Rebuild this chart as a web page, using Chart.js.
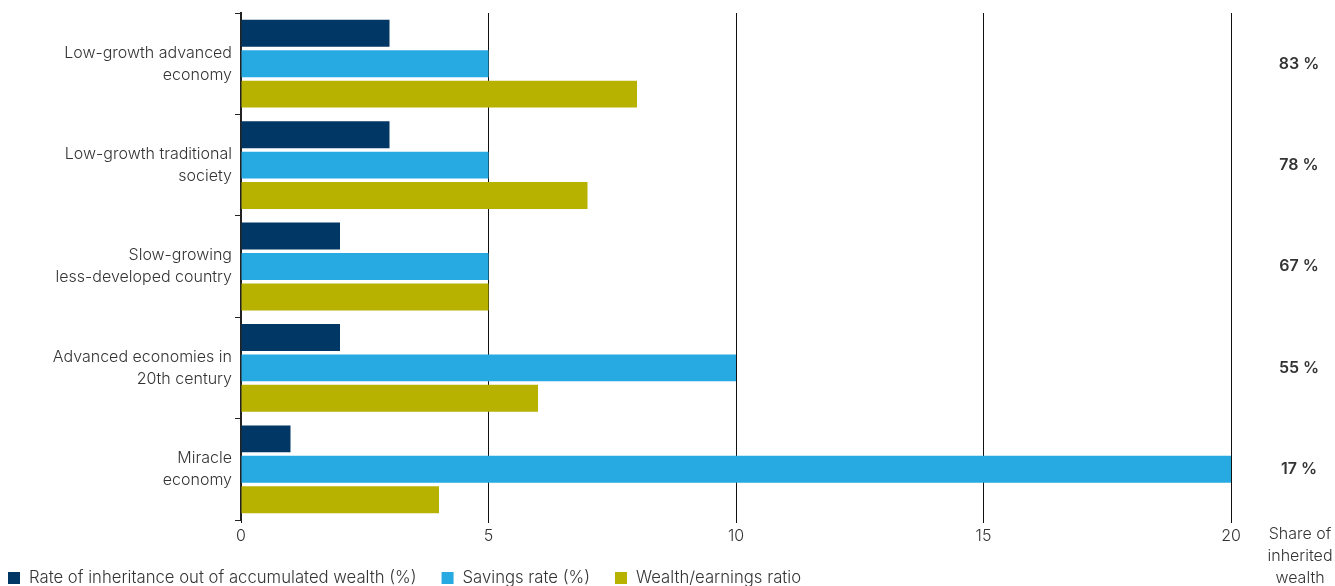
<!DOCTYPE html>
<html>
<head>
<meta charset="utf-8">
<script src="https://cdn.jsdelivr.net/npm/chart.js@4.4.1/dist/chart.umd.min.js"></script>
<style>
html,body{margin:0;padding:0;background:#fff;overflow:hidden;}
#wrap{width:1335px;height:586px;}
</style>
</head>
<body>
<div id="wrap"><canvas id="c" width="1335" height="586"></canvas></div>
<script>
const categories = [
  ["Low-growth advanced", "economy"],
  ["Low-growth traditional", "society"],
  ["Slow-growing", "less-developed country"],
  ["Advanced economies in", "20th century"],
  ["Miracle", "economy"]
];
const seriesNames = ["Rate of inheritance out of accumulated wealth (%)", "Savings rate (%)", "Wealth/earnings ratio"];
const inheritanceRate = [3, 3, 2, 2, 1];
const savingsRate = [5, 5, 5, 10, 20];
const wealthEarnings = [8, 7, 5, 6, 4];
const inheritedShare = ["83 %", "78 %", "67 %", "55 %", "17 %"];
const xTicks = [0, 5, 10, 15, 20];
const sideTitle = ["Share of", "inherited", "wealth"];

const colors = ["#003764", "#27aae1", "#b7b100"];
const FONT = "Inter";
const TEXT = "#333333";

const sidePlugin = {
  id: 'side',
  afterDraw(chart) {
    const ctx = chart.ctx;
    const y = chart.scales.y;
    ctx.save();
    ctx.fillStyle = TEXT;
    ctx.textAlign = 'center';
    ctx.textBaseline = 'middle';
    ctx.font = "600 16px " + FONT;
    inheritedShare.forEach((s, i) => {
      ctx.fillText(s, 1299, y.getPixelForValue(i));
    });
    ctx.font = "300 16px " + FONT;
    sideTitle.forEach((s, i) => ctx.fillText(s, 1300, 534 + i * 22));
    // legend
    ctx.textAlign = 'left';
    ctx.font = "300 16.7px " + FONT;
    let x = 8;
    seriesNames.forEach((n, i) => {
      ctx.fillStyle = colors[i];
      ctx.fillRect(x, 572, 12, 12);
      ctx.fillStyle = TEXT;
      ctx.fillText(n, x + 21, 578);
      x += 21 + ctx.measureText(n).width + 25;
    });
    ctx.restore();
  }
};

new Chart(document.getElementById('c'), {
  type: 'bar',
  data: {
    labels: categories,
    datasets: [
      { label: seriesNames[0], data: inheritanceRate, backgroundColor: colors[0] },
      { label: seriesNames[1], data: savingsRate, backgroundColor: colors[1] },
      { label: seriesNames[2], data: wealthEarnings, backgroundColor: colors[2] }
    ]
  },
  options: {
    indexAxis: 'y',
    responsive: false,
    animation: false,
    layout: { padding: { top: 13, right: 104, left: 0, bottom: 0 } },
    categoryPercentage: 0.9,
    barPercentage: 0.885,
    plugins: { legend: { display: false }, tooltip: { enabled: false } },
    scales: {
      x: {
        min: 0, max: 20,
        afterBuildTicks(s) { s.ticks = xTicks.map(v => ({ value: v })); },
        afterFit(s) { s.height = 66; },
        border: { display: false },
        grid: { color: '#111', lineWidth: 1, drawTicks: true, tickLength: 3 },
        ticks: { color: TEXT, font: { family: FONT, size: 16, weight: '300' }, padding: 4 }
      },
      y: {
        afterFit(s) { s.width = 241; s.paddingTop = 0; s.paddingBottom = 0; },
        border: { display: true, color: '#222', width: 2 },
        grid: { offset: true, drawOnChartArea: false, drawTicks: true, tickLength: 6, color: '#222', lineWidth: 1 },
        ticks: { color: TEXT, font: { family: FONT, size: 16, weight: '300', lineHeight: 1.375 }, padding: 3 }
      }
    }
  },
  plugins: [sidePlugin]
});
</script>
</body>
</html>
